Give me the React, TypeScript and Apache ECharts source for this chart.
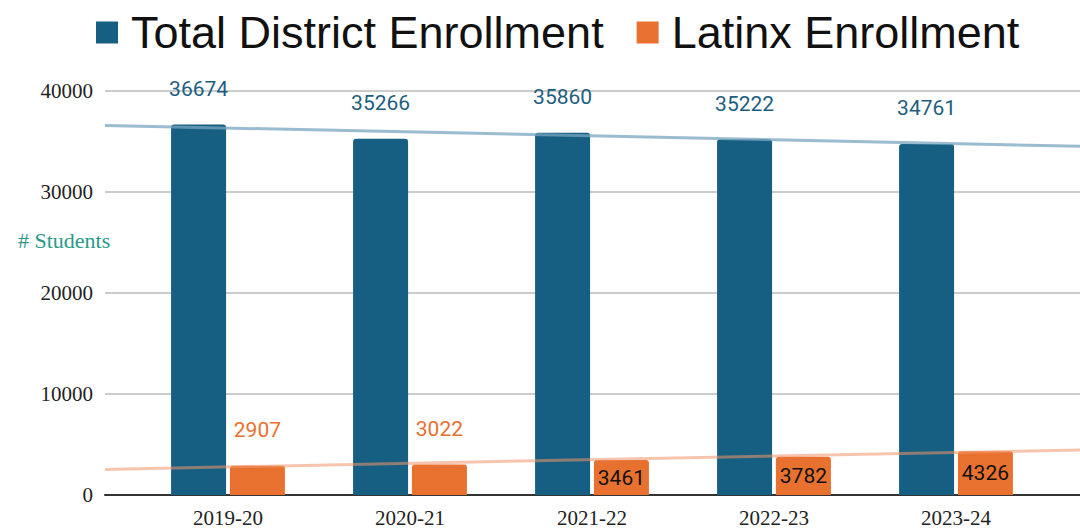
import React, { useEffect, useRef } from "react";
import * as echarts from "echarts";

const categories = ["2019-20", "2020-21", "2021-22", "2022-23", "2023-24"];
const totalEnrollment = [36674, 35266, 35860, 35222, 34761];
const latinxEnrollment = [2907, 3022, 3461, 3782, 4326];
const yTicks = { min: 0, max: 40000, interval: 10000 };
// which Latinx labels sit inside the bar (black) instead of above it (orange)
const latinxLabelInside = [false, false, true, true, true];

const BLUE = "#175F82";
const ORANGE = "#E8712F";

function regression(ys: number[]) {
  const n = ys.length;
  const mx = (n - 1) / 2;
  const my = ys.reduce((a, b) => a + b, 0) / n;
  let num = 0;
  let den = 0;
  ys.forEach((y, i) => {
    num += (i - mx) * (y - my);
    den += (i - mx) * (i - mx);
  });
  const slope = num / den;
  return { slope, intercept: my - slope * mx };
}

export default function App() {
  const ref = useRef<HTMLDivElement>(null);

  useEffect(() => {
    if (!ref.current) return;
    const chart = echarts.init(ref.current, undefined, { renderer: "svg" });

    const W = 1080;
    const gridLeft = 105;
    const catW = 182;
    const firstCenter = 228;
    const top = 91;
    const bottom = 35;
    const barLeft = firstCenter - catW / 2;
    const n = categories.length;

    const xMin = (gridLeft - firstCenter) / catW;
    const xMax = (W - firstCenter) / catW;

    const trend = (ys: number[]) => {
      const { slope, intercept } = regression(ys);
      return [
        [xMin, intercept + slope * xMin],
        [xMax, intercept + slope * xMax],
      ];
    };

    const serif = "'Liberation Serif', 'Times New Roman', serif";

    chart.setOption({
      animation: false,
      backgroundColor: "#ffffff",
      legend: {
        data: ["Total District Enrollment", "Latinx Enrollment"],
        left: 91,
        top: 5,
        itemWidth: 22,
        itemHeight: 22,
        itemGap: 33,
        icon: "rect",
        textStyle: {
          fontFamily: "'Liberation Sans', Arial, sans-serif",
          fontSize: 45,
          color: "#111",
          padding: [0, 0, 0, 8],
        },
      },
      grid: [
        { left: barLeft, width: catW * n, top, bottom },
        { left: gridLeft, right: 0, top, bottom },
      ],
      xAxis: [
        {
          type: "category",
          gridIndex: 0,
          data: categories,
          axisLine: { show: false },
          axisTick: { show: false },
          axisLabel: {
            fontFamily: serif,
            fontSize: 21,
            color: "#222",
            margin: 12,
          },
        },
        {
          type: "value",
          gridIndex: 1,
          min: xMin,
          max: xMax,
          axisLine: { show: true, onZero: false, lineStyle: { color: "#333", width: 2 } },
          axisTick: { show: false },
          axisLabel: { show: false },
          splitLine: { show: false },
        },
      ],
      yAxis: [
        {
          type: "value",
          gridIndex: 0,
          min: yTicks.min,
          max: yTicks.max,
          interval: yTicks.interval,
          show: false,
          splitLine: { show: false },
        },
        {
          type: "value",
          gridIndex: 1,
          min: yTicks.min,
          max: yTicks.max,
          interval: yTicks.interval,
          axisLine: { show: false },
          axisTick: { show: false },
          axisLabel: {
            fontFamily: serif,
            fontSize: 21,
            color: "#222",
            margin: 12,
            formatter: (v: number) => String(v),
          },
          splitLine: { lineStyle: { color: "#cccccc", width: 2 } },
        },
      ],
      graphic: [
        {
          type: "text",
          left: 18,
          top: 229,
          style: {
            text: "# Students",
            font: `22px ${serif}`,
            fill: "#2A9A88",
          },
        },
      ],
      series: [
        {
          name: "Total District Enrollment",
          type: "bar",
          xAxisIndex: 0,
          yAxisIndex: 0,
          data: totalEnrollment,
          barWidth: 55,
          barGap: "7%",
          itemStyle: { color: BLUE, borderRadius: [3, 3, 0, 0] },
          label: {
            show: true,
            position: "top",
            distance: 25,
            fontFamily: "Roboto, sans-serif",
            fontSize: 21,
            color: "#1D5E80",
          },
        },
        {
          name: "Latinx Enrollment",
          type: "bar",
          xAxisIndex: 0,
          yAxisIndex: 0,
          data: latinxEnrollment.map((v, i) => ({
            value: v,
            label: latinxLabelInside[i]
              ? { position: "inside", color: "#111", distance: 0 }
              : { position: "top", color: ORANGE, distance: 25 },
          })),
          barWidth: 55,
          barGap: "7%",
          itemStyle: { color: ORANGE, borderRadius: [3, 3, 0, 0] },
          label: {
            show: true,
            fontFamily: "Roboto, sans-serif",
            fontSize: 21,
          },
        },
        {
          name: "Total trend",
          type: "line",
          xAxisIndex: 1,
          yAxisIndex: 1,
          data: trend(totalEnrollment),
          symbol: "none",
          silent: true,
          lineStyle: { color: "rgba(120,165,192,0.75)", width: 3 },
          z: 5,
        },
        {
          name: "Latinx trend",
          type: "line",
          xAxisIndex: 1,
          yAxisIndex: 1,
          data: trend(latinxEnrollment),
          symbol: "none",
          silent: true,
          lineStyle: { color: "rgba(240,150,105,0.55)", width: 3 },
          z: 5,
        },
      ],
    });

    return () => chart.dispose();
  }, []);

  return (
    <div
      ref={ref}
      style={{ position: "fixed", left: 0, top: 0, width: 1080, height: 530 }}
    />
  );
}
